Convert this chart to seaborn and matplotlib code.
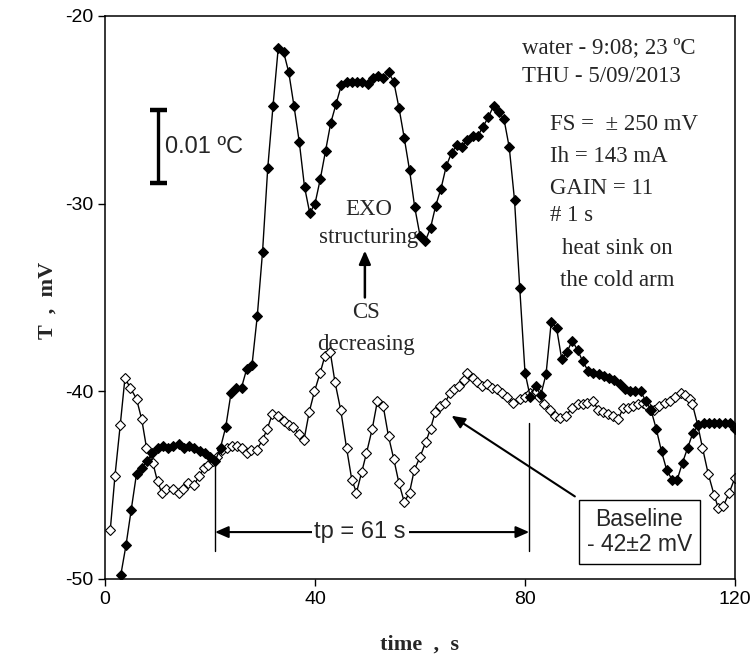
import matplotlib
matplotlib.use('Agg')
import matplotlib.pyplot as plt
import seaborn as sns

# ---- data ----
filled_t = list(range(2, 121))
filled_v = [
    -51.5, -49.8, -48.2, -46.3, -44.4,
    -44.1, -43.7, -43.3, -43.0, -42.9,
    -43.0, -42.9, -42.8, -43.0, -42.9,
    -43.0, -43.2, -43.3, -43.5, -43.7,
    -43.0, -41.9, -40.1, -39.8, -39.8,
    -38.8, -38.6, -36.0, -32.6, -28.1,
    -24.8, -21.7, -21.9, -23.0, -24.8,
    -26.7, -29.1, -30.5, -30.0, -28.7,
    -27.2, -25.7, -24.7, -23.7, -23.5,
    -23.5, -23.5, -23.5, -23.6, -23.3,
    -23.2, -23.3, -23.0, -23.5, -24.9,
    -26.5, -28.2, -30.2, -31.7, -32.0,
    -31.3, -30.1, -29.2, -28.0, -27.3,
    -26.9, -27.0, -26.6, -26.4, -26.4,
    -25.9, -25.4, -24.8, -25.1, -25.5,
    -27.0, -29.8, -34.5, -39.0, -40.3,
    -39.7, -40.2, -39.1, -36.3, -36.6,
    -38.3, -37.9, -37.3, -37.8, -38.4,
    -38.9, -39.0, -39.1, -39.2, -39.3,
    -39.4, -39.6, -39.9, -40.0, -40.0,
    -40.0, -40.5, -41.0, -42.0, -43.2,
    -44.2, -44.7, -44.7, -43.8, -43.0,
    -42.2, -41.8, -41.7, -41.7, -41.7,
    -41.7, -41.7, -41.7, -42.0,
]

open_t = [
    1.0, 1.9, 2.9, 3.8, 4.8, 6.0, 7.0, 7.9, 9.1, 10.0,
    10.8, 11.7, 12.9, 14.0, 14.9, 15.9, 17.0, 17.9, 18.9, 19.7,
    20.5, 21.4, 22.3, 23.2, 24.1, 25.1, 26.0, 27.0, 27.9, 28.9,
    30.0, 30.9, 31.9, 33.0, 34.0, 35.0, 35.9, 37.0, 37.9, 38.9,
    39.9, 41.0, 41.9, 42.9, 43.8, 44.9, 46.0, 47.0, 47.9, 48.9,
    49.8, 50.9, 51.9, 53.0, 54.0, 55.0, 56.0, 57.0, 58.0, 58.9,
    60.0, 61.1, 62.0, 62.9, 63.8, 64.8, 65.7, 66.5, 67.5, 68.3,
    69.0, 70.0, 70.9, 71.9, 72.8, 73.8, 74.7, 75.7, 76.6, 77.8,
    79.0, 80.0, 81.0, 82.0, 82.7, 83.7, 84.8, 85.7, 86.7, 87.8,
    88.9, 90.0, 91.0, 91.9, 93.0, 93.9, 94.9, 95.8, 96.8, 97.7,
    98.7, 99.7, 100.6, 101.6, 102.5, 103.2, 103.9, 104.6, 105.6, 106.7,
    107.6, 108.6, 109.7, 110.5, 111.4, 111.9, 112.9, 113.8, 114.9, 116.0,
    116.8, 117.8, 118.9, 120.0,
]
open_v = [
    -47.4, -44.5, -41.8, -39.3, -39.8, -40.4, -41.5, -43.0, -43.8, -44.8,
    -45.4, -45.2, -45.2, -45.4, -45.2, -44.9, -45.0, -44.5, -44.1, -43.9,
    -43.7, -43.5, -43.1, -43.0, -42.9, -42.9, -43.0, -43.3, -43.1, -43.1,
    -42.6, -42.0, -41.2, -41.3, -41.6, -41.8, -41.9, -42.3, -42.6, -41.1,
    -40.0, -39.0, -38.1, -37.9, -39.5, -41.0, -43.0, -44.7, -45.4, -44.3,
    -43.3, -42.0, -40.5, -40.8, -42.4, -43.6, -44.9, -45.9, -45.4, -44.2,
    -43.5, -42.7, -42.0, -41.1, -40.8, -40.6, -40.1, -39.9, -39.7, -39.4,
    -39.0, -39.3, -39.5, -39.7, -39.6, -39.8, -39.9, -40.1, -40.3, -40.6,
    -40.4, -40.3, -40.1, -40.0, -40.3, -40.7, -41.0, -41.3, -41.4, -41.3,
    -40.9, -40.7, -40.7, -40.6, -40.5, -41.0, -41.1, -41.2, -41.3, -41.5,
    -40.9, -40.9, -40.8, -40.7, -40.6, -40.8, -41.0, -41.0, -40.8, -40.6,
    -40.5, -40.3, -40.1, -40.2, -40.4, -40.7, -41.8, -43.0, -44.4, -45.5,
    -46.2, -46.1, -45.4, -44.6,
]

x_ticks = [0, 40, 80, 120]
y_ticks = [-50, -40, -30, -20]

# ---- style ----
sns.set_style('ticks')
plt.rcParams['font.family'] = ['Liberation Sans', 'DejaVu Sans']
plt.rcParams['axes.unicode_minus'] = False
SERIF = ['Liberation Serif', 'DejaVu Serif']

fig = plt.figure(figsize=(7.55, 6.57), dpi=100)
ax = fig.add_axes([105 / 755, 1 - 579 / 657, 630 / 755, 563 / 657])

sns.lineplot(x=open_t, y=open_v, ax=ax, color='black', linewidth=1.0,
             marker='D', markersize=4.6, markerfacecolor='white',
             markeredgecolor='black', markeredgewidth=0.8, sort=False)
sns.lineplot(x=filled_t, y=filled_v, ax=ax, color='black', linewidth=1.0,
             marker='D', markersize=5.0, markerfacecolor='black',
             markeredgecolor='black', sort=False)

ax.set_xlim(0, 120)
ax.set_ylim(-50, -20)
ax.set_xticks(x_ticks)
ax.set_yticks(y_ticks)
ax.tick_params(direction='out', length=5, width=1, labelsize=14, colors='black')
for s in ax.spines.values():
    s.set_visible(True)
    s.set_color('black')
    s.set_linewidth(1.1)
ax.set_xlabel('')
ax.set_ylabel('')

fig.text(420 / 755, 1 - 645 / 657, 'time  ,  s', ha='center', va='center',
         fontsize=16, fontweight='bold', family=SERIF)
fig.text(48 / 755, 1 - 300 / 657, 'T  ,  mV', ha='center', va='center',
         rotation=90, fontsize=16, fontweight='bold', family=SERIF)

# scale bar
ax.plot([10.15, 10.15], [-25.0, -28.9], color='black', lw=2.4, solid_capstyle='butt')
ax.plot([8.6, 11.8], [-25.0, -25.0], color='black', lw=3.2, solid_capstyle='butt')
ax.plot([8.6, 11.8], [-28.9, -28.9], color='black', lw=3.2, solid_capstyle='butt')
ax.text(11.4, -27.0, '0.01 ºC', fontsize=17, va='center', ha='left')

# info texts
tk = dict(fontsize=16.5, family=SERIF, va='center')
ax.text(79.4, -21.7, 'water - 9:08; 23 ºC', ha='left', **tk)
ax.text(79.4, -23.25, 'THU - 5/09/2013', ha='left', **tk)
ax.text(84.8, -25.8, 'FS =  ± 250 mV', ha='left', **tk)
ax.text(84.8, -27.5, 'Ih = 143 mA', ha='left', **tk)
ax.text(84.8, -29.2, 'GAIN = 11', ha='left', **tk)
ax.text(84.8, -30.65, '# 1 s', ha='left', **tk)
ax.text(97.6, -32.4, 'heat sink on', ha='center', **tk)
ax.text(97.6, -34.1, 'the cold arm', ha='center', **tk)

ax.text(50.2, -30.3, 'EXO', ha='center', **tk)
ax.text(50.2, -31.8, 'structuring', ha='center', **tk)
ax.text(49.8, -35.8, 'CS', ha='center', **tk)
ax.text(49.7, -37.5, 'decreasing', ha='center', **tk)
ax.annotate('', xy=(49.5, -32.5), xytext=(49.5, -35.0),
            arrowprops=dict(arrowstyle='-|>,head_length=0.8,head_width=0.35',
                            color='black', lw=1.8, shrinkA=0, shrinkB=0))

# tp arrow
ax.plot([20.95, 20.95], [-43.8, -48.5], color='black', lw=1.0)
ax.plot([80.8, 80.8], [-41.7, -48.5], color='black', lw=1.0)
ax.annotate('', xy=(20.95, -47.5), xytext=(80.8, -47.5),
            arrowprops=dict(arrowstyle='<|-|>,head_length=0.8,head_width=0.35',
                            color='black', lw=1.5, shrinkA=0, shrinkB=0))
ax.text(48.6, -47.5, 'tp = 61 s', fontsize=17, ha='center', va='center',
        bbox=dict(facecolor='white', edgecolor='none', pad=2))

# baseline box and arrow
ax.annotate('', xy=(66.0, -41.3), xytext=(89.5, -45.6),
            arrowprops=dict(arrowstyle='-|>,head_length=0.8,head_width=0.35',
                            color='black', lw=1.5, shrinkA=0, shrinkB=0))
ax.text(101.8, -47.5, 'Baseline\n- 42±2 mV', fontsize=16.5, ha='center', va='center',
        linespacing=1.15,
        bbox=dict(facecolor='white', edgecolor='black', lw=1.0,
                  boxstyle='square,pad=0.35'))

fig.savefig('out.png', dpi=100)
